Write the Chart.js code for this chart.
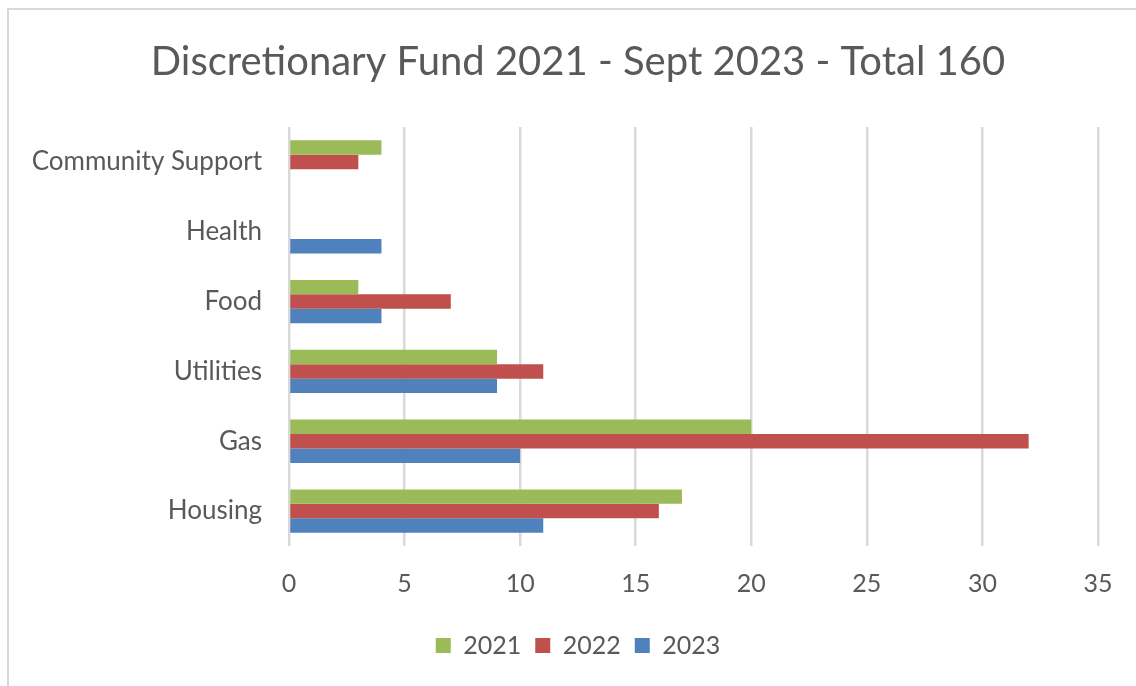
<!DOCTYPE html>
<html>
<head>
<meta charset="utf-8">
<script src="https://cdn.jsdelivr.net/npm/chart.js@4"></script>
<style>
  body { margin: 0; background: #fff; }
  .frame {
    position: absolute; left: 7px; top: 8px; width: 1300px; height: 800px;
    border-top: 2px solid #d9d9d9; border-left: 2px solid #d9d9d9;
  }
  #chart { position: absolute; left: 0; top: 0; }
</style>
</head>
<body>
<div class="frame"></div>
<canvas id="chart" width="1136" height="686"></canvas>
<script>
const categories = ["Community Support", "Health", "Food", "Utilities", "Gas", "Housing"];
const years = ["2021", "2022", "2023"];
const values2021 = [4, 0, 3, 9, 20, 17];
const values2022 = [3, 0, 7, 11, 32, 16];
const values2023 = [0, 4, 4, 9, 10, 11];
const colors = ["#9BBB59", "#C0504D", "#4F81BD"];
const xTicks = [0, 5, 10, 15, 20, 25, 30, 35];

const textColor = "#595959";
const fontFamily = "Lato, 'Open Sans', sans-serif";

// title and legend sit centred on the whole frame, not on the canvas minus padding
const shiftBoxes = {
  id: "shiftBoxes",
  afterLayout(chart) {
    [chart.titleBlock, chart.legend].forEach((box) => {
      if (box) {
        box.left += 29;
        box.right += 29;
      }
    });
  },
};

const ctx = document.getElementById("chart").getContext("2d");
const myChart = new Chart(ctx, {
  type: "bar",
  data: {
    labels: categories,
    datasets: [values2021, values2022, values2023].map((vals, i) => ({
      label: years[i],
      data: vals,
      backgroundColor: colors[i],
      borderWidth: 0,
      categoryPercentage: 0.62,
      barPercentage: 1,
    })),
  },
  options: {
    indexAxis: "y",
    responsive: false,
    animation: false,
    layout: { padding: { left: 0, right: 38, top: 0, bottom: 18 } },
    scales: {
      x: {
        min: xTicks[0],
        max: xTicks[xTicks.length - 1],
        afterBuildTicks: (scale) => {
          scale.ticks = xTicks.map((v) => ({ value: v }));
        },
        afterFit: (scale) => {
          scale.height = 73;
        },
        grid: { color: "#d9d9d9", lineWidth: 2.5, drawTicks: false },
        border: { display: false },
        ticks: {
          color: textColor,
          padding: 23,
          font: { family: fontFamily, size: 25 },
        },
      },
      y: {
        afterFit: (scale) => {
          scale.width = 289;
        },
        grid: { display: false, drawTicks: false },
        border: { display: false },
        ticks: {
          color: textColor,
          padding: 27,
          font: { family: fontFamily, size: 26 },
        },
      },
    },
    plugins: {
      title: {
        display: true,
        text: "Discretionary Fund 2021 - Sept 2023 - Total 160",
        color: textColor,
        font: { family: fontFamily, size: 40, weight: "normal" },
        padding: { top: 38, bottom: 41 },
      },
      legend: {
        position: "bottom",
        labels: {
          color: textColor,
          boxWidth: 15,
          boxHeight: 15,
          padding: 14,
          font: { family: fontFamily, size: 25 },
        },
      },
      tooltip: { enabled: false },
    },
  },
  plugins: [shiftBoxes],
});
</script>
</body>
</html>
